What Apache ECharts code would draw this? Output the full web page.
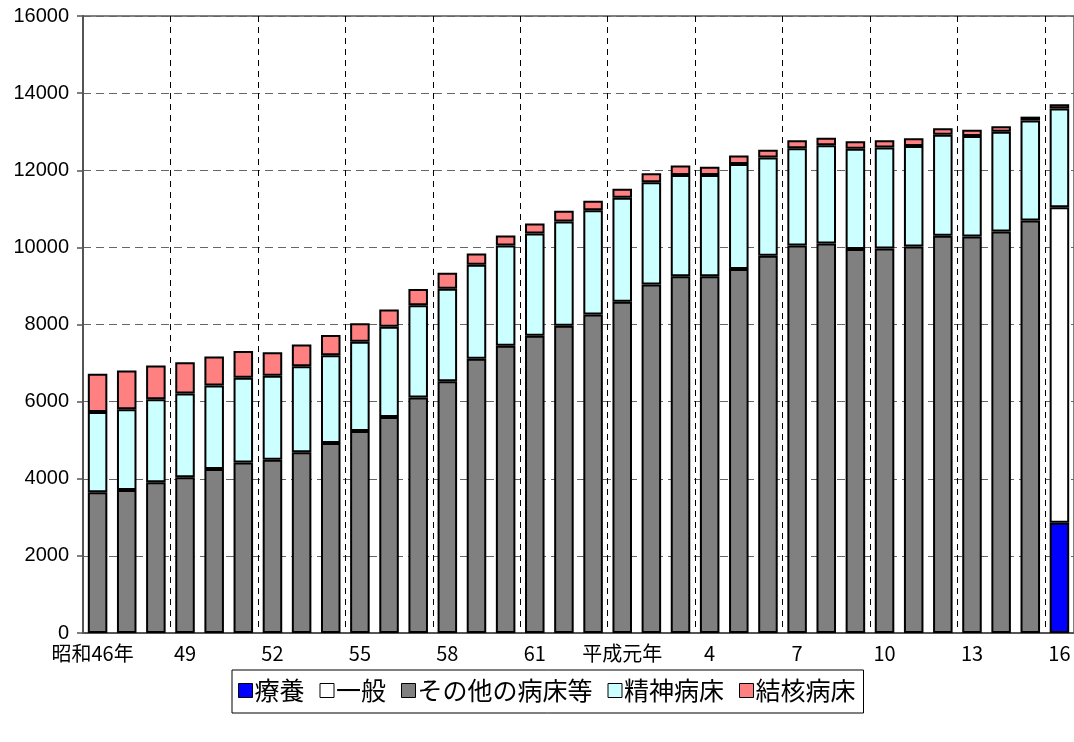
<!DOCTYPE html>
<html><head><meta charset="utf-8">
<script src="https://cdn.jsdelivr.net/npm/echarts@6/dist/echarts.min.js"></script>
<style>html,body{margin:0;padding:0;background:#fff}#c{width:1074px;height:742px}</style>
</head><body><div id="c"></div>
<script>
const categories = ['昭和46年','47','48','49','50','51','52','53','54','55','56','57','58','59','60','61','62','63',
  '平成元年','2','3','4','5','6','7','8','9','10','11','12','13','14','15','16'];
const ryoyo   = ['-','-','-','-','-','-','-','-','-','-','-','-','-','-','-','-','-','-','-','-','-','-','-','-','-','-','-','-','-','-','-','-','-',2860];
const ippan   = ['-','-','-','-','-','-','-','-','-','-','-','-','-','-','-','-','-','-','-','-','-','-','-','-','-','-','-','-','-','-','-','-','-',8180];
const sonota  = [3650,3710,3910,4040,4250,4420,4490,4690,4930,5240,5600,6110,6530,7110,7450,7710,7970,8260,
  8590,9040,9250,9250,9440,9780,10050,10100,9960,9970,10020,10300,10280,10410,10700,'-'];
const seishin = [2080,2090,2150,2170,2170,2200,2180,2230,2270,2310,2340,2390,2400,2440,2600,2650,2700,2700,
  2700,2650,2630,2630,2720,2550,2520,2550,2600,2620,2610,2620,2610,2590,2590,2560];
const kekkaku = [990,1010,880,810,750,690,610,560,530,480,450,420,410,290,260,260,280,250,
  230,230,240,210,220,200,210,190,190,190,200,170,160,140,100,110];
const seriesNames = ['療養','一般','その他の病床等','精神病床','結核病床'];
const colors = ['#0000FF','#FFFFFF','#808080','#CCFFFF','#FF8080'];
const yTicks = {min:0, max:16000, interval:2000};

const FONT = "'Noto Sans CJK JP', 'Liberation Sans', sans-serif";
const chart = echarts.init(document.getElementById('c'));
const dataSets = [ryoyo, ippan, sonota, seishin, kekkaku];
chart.setOption({
  animation:false,
  backgroundColor:'#fff',
  grid:{left:83, right:-4, top:16, bottom:109, show:true, borderColor:'#808080', borderWidth:2, containLabel:false},
  legend:{
    data:seriesNames, left:232, top:670,
    borderColor:'#000', borderWidth:1, padding:[8,8,10,6],
    itemWidth:14, itemHeight:14, itemGap:15, icon:'rect',
    itemStyle:{borderColor:'#000', borderWidth:1},
    textStyle:{fontFamily:FONT, fontSize:25, color:'#000', padding:[0,0,0,-3]}
  },
  xAxis:{
    type:'category', data:categories, boundaryGap:true,
    axisLine:{lineStyle:{color:'#555', width:2}},
    axisTick:{show:false},
    axisLabel:{interval:2, color:'#000', fontFamily:FONT, fontSize:20, margin:10,
      formatter:function(v, i){ return i===0 ? '{f|'+v+'}' : v; },
      rich:{f:{fontFamily:FONT, fontSize:20, color:'#000', padding:[0,10,0,0]}}},
    splitLine:{show:true, interval:2, lineStyle:{color:'#000', type:[6,5], width:1}}
  },
  yAxis:{
    type:'value', min:yTicks.min, max:yTicks.max, interval:yTicks.interval,
    axisLine:{show:true, lineStyle:{color:'#555', width:2}},
    axisTick:{show:true, inside:false, length:6, lineStyle:{color:'#555', width:1.5}},
    axisLabel:{color:'#000', fontFamily:"'Liberation Sans', Arial, sans-serif", fontSize:20, margin:14,
      formatter:function(v){ return String(v); }},
    splitLine:{show:true, lineStyle:{color:'#666', type:[8,5], width:1}}
  },
  series: seriesNames.map((n,k)=>({
    name:n, type:'bar', stack:'total', data:dataSets[k], barCategoryGap:'33%',
    itemStyle:{color:colors[k], borderColor:'#000', borderWidth:2},
    emphasis:{disabled:true}
  }))
});
</script></body></html>
